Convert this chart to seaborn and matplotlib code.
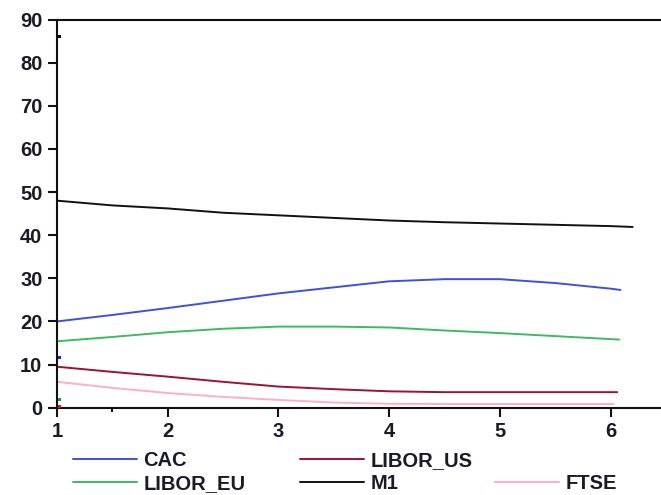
import numpy as np
import pandas as pd
import matplotlib
matplotlib.use('Agg')
import matplotlib.pyplot as plt
import seaborn as sns

# values (x = horizon, y = level)
x_m1 = [1, 1.5, 2, 2.5, 3, 3.5, 4, 4.5, 5, 5.5, 6, 6.2]
m1 = [48.0, 46.9, 46.2, 45.2, 44.6, 44.0, 43.4, 43.0, 42.7, 42.4, 42.1, 41.9]

x_cac = [1, 1.5, 2, 2.5, 3, 3.5, 4, 4.5, 5, 5.5, 6, 6.09]
cac = [20.0, 21.5, 23.1, 24.8, 26.5, 27.9, 29.3, 29.8, 29.8, 28.9, 27.6, 27.3]

x_eu = [1, 1.5, 2, 2.5, 3, 3.5, 4, 4.5, 5, 5.5, 6, 6.08]
libor_eu = [15.4, 16.4, 17.5, 18.3, 18.8, 18.8, 18.6, 17.9, 17.3, 16.6, 15.9, 15.8]

x_us = [1, 1.5, 2, 2.5, 3, 3.5, 4, 4.5, 5, 5.5, 6, 6.06]
libor_us = [9.5, 8.3, 7.2, 6.0, 4.9, 4.3, 3.8, 3.6, 3.6, 3.6, 3.6, 3.6]

x_ftse = [1, 1.5, 2, 2.5, 3, 3.5, 4, 4.5, 5, 5.5, 6, 6.03]
ftse = [6.0, 4.6, 3.4, 2.5, 1.8, 1.2, 0.9, 0.85, 0.85, 0.85, 0.85, 0.85]

# stray single points at the start
dot_names = ['M1', 'CAC', 'LIBOR_EU', 'LIBOR_US']
dot_x = [1.025, 1.025, 1.025, 1.025]
dot_y = [86.0, 11.6, 1.8, 0.2]

names = ['CAC', 'LIBOR_US', 'LIBOR_EU', 'M1', 'FTSE']
colors = {'CAC': '#3f4fe0', 'LIBOR_US': '#9e1232', 'LIBOR_EU': '#3dbb5e',
          'M1': '#111111', 'FTSE': '#ffadc9'}
dot_colors = {'M1': '#000000', 'CAC': '#1020ff', 'LIBOR_EU': '#1a9a2a', 'LIBOR_US': '#e01010'}

series = {'CAC': (x_cac, cac), 'LIBOR_US': (x_us, libor_us), 'LIBOR_EU': (x_eu, libor_eu),
          'M1': (x_m1, m1), 'FTSE': (x_ftse, ftse)}
df = pd.concat([pd.DataFrame({'x': xs, 'y': ys, 'series': n}) for n, (xs, ys) in series.items()],
               ignore_index=True)
dots = pd.DataFrame({'x': dot_x, 'y': dot_y, 'series': dot_names})

sns.set_style('ticks')
plt.rcParams['font.family'] = ['Liberation Sans', 'DejaVu Sans']
plt.rcParams['font.weight'] = 'bold'

fig = plt.figure(figsize=(6.61, 4.95), dpi=100)
ax = fig.add_axes([57 / 661, 1 - 407.7 / 495, 1 - 57 / 661, (407.7 - 19.5) / 495])

sns.lineplot(data=df, x='x', y='y', hue='series', hue_order=names, palette=colors,
             linewidth=1.4, legend=False, ax=ax, sort=True, estimator=None)
sns.scatterplot(data=dots, x='x', y='y', hue='series', palette=dot_colors, marker='s',
                s=5, linewidth=0, legend=False, ax=ax, clip_on=False, zorder=5)

ax.set_xlim(1, 6.456)
ax.set_ylim(0, 90)
ax.set_xticks([1, 2, 3, 4, 5, 6])
ax.set_xticks([1.5], minor=True)
ax.set_yticks(range(0, 91, 10))
ax.set_xlabel('')
ax.set_ylabel('')
for s in ['left', 'bottom', 'top']:
    ax.spines[s].set_linewidth(1.5)
    ax.spines[s].set_color('#111111')
ax.spines['right'].set_visible(False)
ax.tick_params(axis='both', which='major', length=6.5, width=1.5, color='#111111',
               labelsize=14.5, labelcolor='#1a1a2a', pad=4)
ax.tick_params(axis='x', which='minor', length=3, width=1.5, color='#111111')

lines = dict(zip(names, ax.get_lines()))
blank = plt.Line2D([], [], color='none')
legend_cols = [(['CAC', 'LIBOR_EU'], 73), (['LIBOR_US', 'M1'], 300), ([None, 'FTSE'], 495)]
for col, px in legend_cols:
    handles = [lines[n] if n else blank for n in col]
    labels = [n if n else ' ' for n in col]
    leg = fig.legend(handles, labels, loc='upper left',
                     bbox_to_anchor=(px / 661, 1 - 451 / 495), frameon=False,
                     fontsize=14.5, handlelength=3.2, handletextpad=0.3,
                     labelspacing=0.2, borderpad=0, borderaxespad=0)
    for t in leg.get_texts():
        t.set_color('#1a1a2a')

fig.savefig('out.png', dpi=100)
